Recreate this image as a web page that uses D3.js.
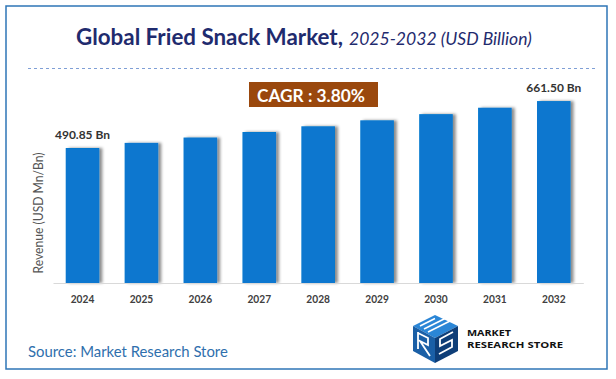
<!DOCTYPE html>
<html><head><meta charset="utf-8">
<script src="https://cdn.jsdelivr.net/npm/d3@7"></script>
<style>body{margin:0;background:#fff}svg{display:block}</style>
</head><body><div id="chart"></div>
<script>
const years = ["2024","2025","2026","2027","2028","2029","2030","2031","2032"];
const values = [490.85, 509.5, 528.9, 549.0, 569.8, 591.5, 614.0, 637.3, 661.5];
const barLabels = [{year:"2024", text:"490.85 Bn"}, {year:"2032", text:"661.50 Bn"}];
const titleMain = "Global Fried Snack Market,";
const titleSub = "2025-2032 (USD Billion)";
const cagrText = "CAGR : 3.80%";
const yLabel = "Revenue (USD Mn/Bn)";
const sourceText = "Source: Market Research Store";
const logoLines = ["MARKET", "RESEARCH STORE"];

(function(){
const W = 616, H = 379;
const FONT = "Lato, 'Open Sans', sans-serif";
const svg = d3.select("#chart").append("svg").attr("width", W).attr("height", H);

function fit(sel, target) {
  const w = sel.node().getComputedTextLength();
  const fs = parseFloat(sel.attr("font-size"));
  if (w > target) sel.attr("textLength", target).attr("lengthAdjust", "spacingAndGlyphs");
  else sel.attr("font-size", (fs * target / w).toFixed(2));
  return sel;
}

const defs = svg.append("defs");
const f = defs.append("filter").attr("id","shadow").attr("x","-20%").attr("y","-10%").attr("width","160%").attr("height","130%");
f.append("feDropShadow").attr("dx",3).attr("dy",0).attr("stdDeviation",1.6).attr("flood-color","#000").attr("flood-opacity",0.45);

// frame
svg.append("rect").attr("x",6).attr("y",6).attr("width",601).attr("height",363)
  .attr("fill","#fff").attr("stroke","#2e75b6").attr("stroke-width",1.5);

// title
const t1 = svg.append("text").attr("x",76).attr("y",45).attr("font-family",FONT)
  .attr("font-weight","bold").attr("font-size",21).attr("fill","#1f2b6e").text(titleMain);
fit(t1, 267);
const t2 = svg.append("text").attr("x",349).attr("y",45).attr("font-family",FONT)
  .attr("font-style","italic").attr("font-size",17.5).attr("fill","#1f2b6e").text(titleSub);
fit(t2, 183);

// dashed line
svg.append("line").attr("x1",28).attr("x2",596).attr("y1",68.5).attr("y2",68.5)
  .attr("stroke","#7f9fd6").attr("stroke-width",1).attr("stroke-dasharray","3,3");

// scales
const x = d3.scaleBand().domain(years).range([53, 583.3]).paddingInner(0.43).paddingOuter(0.216);
const y = d3.scaleLinear().domain([0, 700]).range([283, 283 - 700 * 0.275]);

// bars
svg.append("g").selectAll("rect").data(values).join("rect")
  .attr("x", (d,i) => x(years[i]))
  .attr("y", d => y(d))
  .attr("width", x.bandwidth())
  .attr("height", d => y(0) - y(d))
  .attr("fill", "#0777cf")
  .attr("filter","url(#shadow)");

// axis
const xAxis = d3.axisBottom(x).tickSize(0).tickPadding(11);
const gx = svg.append("g").attr("transform", `translate(0,${y(0)})`).call(xAxis);
gx.select(".domain").attr("stroke","#d9d9d9").attr("stroke-width",1.2);
gx.selectAll("text").attr("font-family",FONT).attr("font-weight","bold")
  .attr("font-size",12).attr("fill","#404040");
gx.selectAll(".tick text").each(function(){ fit(d3.select(this), 23.6); });

// bar labels
barLabels.forEach(b => {
  const v = values[years.indexOf(b.year)];
  const t = svg.append("text").attr("x", x(b.year) + x.bandwidth()/2).attr("y", y(v) - 9)
    .attr("text-anchor","middle").attr("font-family",FONT).attr("font-weight","bold")
    .attr("font-size",12).attr("fill","#333").text(b.text);
  fit(t, 55);
});

// y label
const yl = svg.append("text").attr("transform","translate(42.5,213) rotate(-90)")
  .attr("text-anchor","middle").attr("font-family",FONT).attr("font-size",12.5)
  .attr("fill","#555").text(yLabel);
fit(yl, 121);

// CAGR box
svg.append("rect").attr("x",249).attr("y",82).attr("width",129).attr("height",25).attr("fill","#9a480d");
const ct = svg.append("text").attr("x",257).attr("y",102).attr("font-family",FONT)
  .attr("font-weight","bold").attr("font-size",15.5).attr("fill","#fff").text(cagrText);
fit(ct, 108);

// source
const st = svg.append("text").attr("x",28).attr("y",357).attr("font-family",FONT)
  .attr("font-size",13.5).attr("fill","#2f6fad").text(sourceText);
fit(st, 200);

// logo
const lg = svg.append("g");
const faceTop = [[435,315],[458,326],[435,338],[413,326]];
const faceLeft = [[413,326],[435,338],[435,363],[413,351]];
const faceRight = [[435,338],[458,326],[458,351],[435,363]];
const poly = p => "M" + p.map(q => q.join(",")).join("L") + "Z";
lg.append("path").attr("d", poly(faceTop)).attr("fill","#2b86d6");
lg.append("path").attr("d", poly(faceLeft)).attr("fill","#1a5fa6");
lg.append("path").attr("d", poly(faceRight)).attr("fill","#0e3e78");
lg.append("path").attr("d","M420,326 L435,318.5 M424,329 L446,318 M428,332 L451,320.5")
  .attr("stroke","#fff").attr("stroke-width",1.6).attr("fill","none");
lg.append("path").attr("d","M418,332 L418,349 M418,333 L428,338 L428,345 L420,341 L430,356")
  .attr("stroke","#fff").attr("stroke-width",1.8).attr("fill","none");
lg.append("path").attr("d","M453,332 L440,339 L440,346 L452,340 L452,347 L439,354")
  .attr("stroke","#fff").attr("stroke-width",1.8).attr("fill","none");
const l1 = svg.append("text").attr("x",467).attr("y",335.5).attr("font-family","'Open Sans', sans-serif")
  .attr("font-weight","bold").attr("font-size",8.5).attr("fill","#111")
  .attr("textLength",44).attr("lengthAdjust","spacingAndGlyphs").text(logoLines[0]);
const l2 = svg.append("text").attr("x",467).attr("y",347.5).attr("font-family","'Open Sans', sans-serif")
  .attr("font-weight","bold").attr("font-size",8.5).attr("fill","#111")
  .attr("textLength",96).attr("lengthAdjust","spacingAndGlyphs").text(logoLines[1]);
})();
</script>
</body></html>
